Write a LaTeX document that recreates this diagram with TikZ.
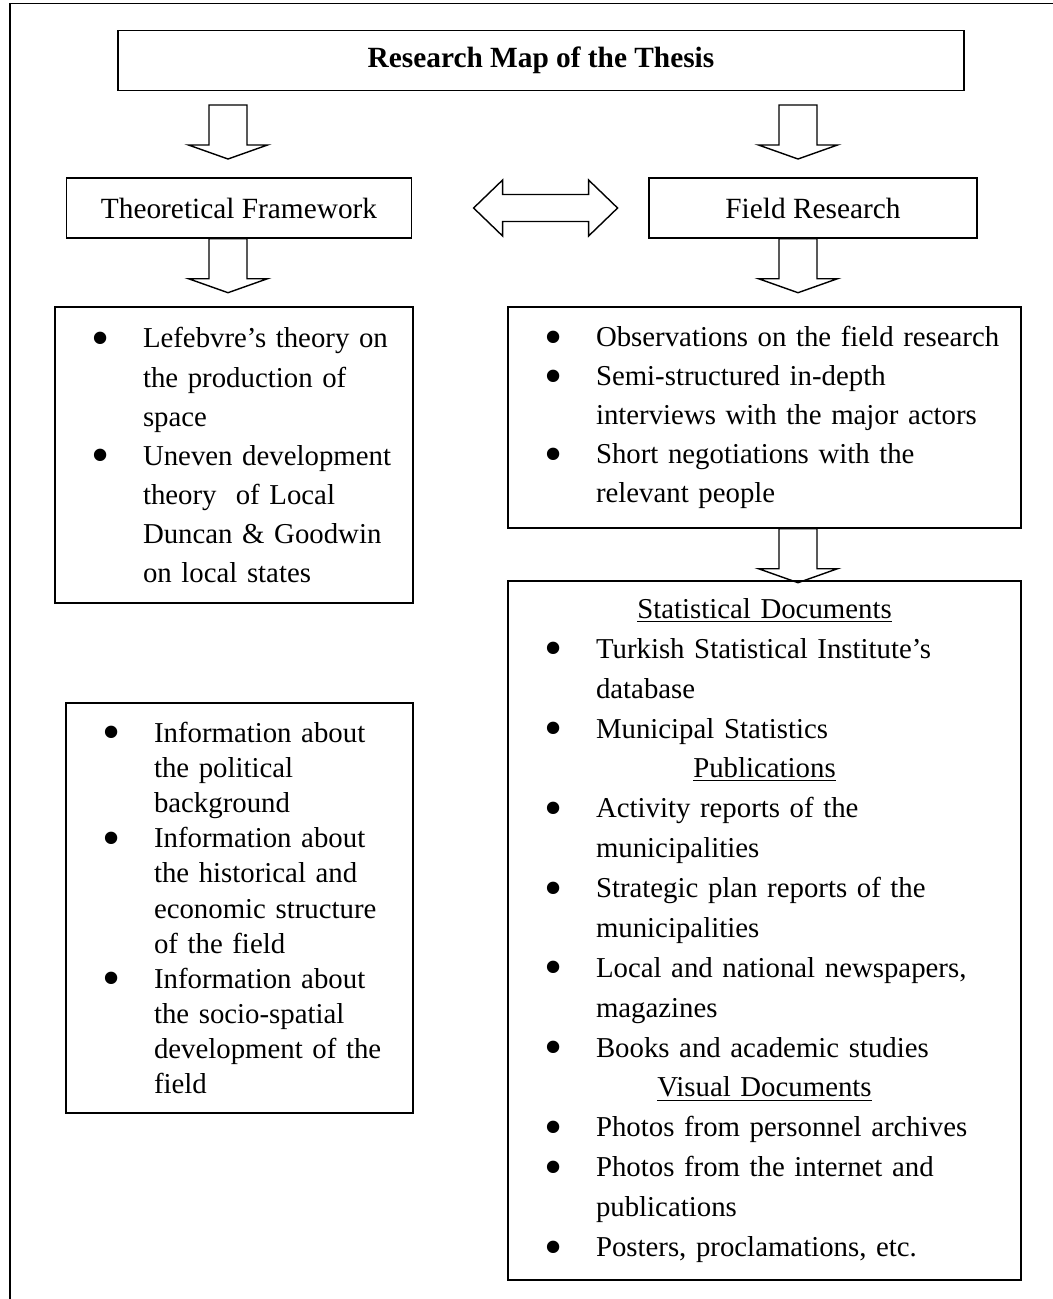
\documentclass[tikz,border=0pt]{standalone}
\usepackage{fontspec}
\setmainfont{Liberation Serif}
\usepackage{graphicx}
\usepackage{tikz}
\usetikzlibrary{positioning, calc}

\newlength\pxu
\setlength\pxu{0.02cm}
\newcommand\bul{\smash{\raisebox{-4.3pt}{\scalebox{1.8}{\textbullet}}}}
\newcommand\bl[1]{\makebox[88\pxu][l]{\hspace{36\pxu}\makebox[20\pxu][c]{\bul}}#1}
\newcommand\cl[1]{\hspace*{88\pxu}#1}
\newcommand\hd[2]{\makebox[#1\pxu][c]{\underline{#2}}}

\begin{document}
\begin{tikzpicture}[
  x=0.02cm, y=-0.02cm,
  textfont/.style={font=\fontsize{16.4}{22.2}\selectfont},
  titlebox/.style={
    rectangle, draw, line width=0.8pt,
    minimum width=846\pxu, minimum height=60\pxu,
    font=\fontsize{16.7}{18}\selectfont\bfseries
  },
  headbox/.style={
    rectangle, draw, line width=0.8pt,
    minimum height=60\pxu, font=\fontsize{16.7}{20}\selectfont
  },
  listbox/.style={
    rectangle, draw, line width=0.8pt,
    inner xsep=0pt, align=left, textfont
  },
  blockline/.style={draw, line width=0.8pt, line join=miter},
  blockdown/.pic={
    \draw[blockline] (-19,0) -- (-19,40) -- (-39.5,40) -- (0,54)
      -- (39.5,40) -- (19,40) -- (19,0) -- cycle;
  },
  blockboth/.pic={
    \draw[blockline] (-72,0) -- (-43,-28) -- (-43,-13.5) -- (43,-13.5)
      -- (43,-28) -- (72,0) -- (43,28) -- (43,13.5) -- (-43,13.5)
      -- (-43,28) -- cycle;
  },
  frame/.style={line width=1.1pt}
]
\useasboundingbox (0,0) rectangle (1053,1299);
\draw[frame] (10,1299) -- (10,3.5) -- (1053,3.5);

\node[titlebox] (title) at (541,60.5) {Research Map of the Thesis};

\node[headbox, minimum width=345\pxu] (theory) at (239,208) {Theoretical Framework};
\node[headbox, minimum width=328\pxu] (field) at (813,208) {Field Research};

\node[listbox, text width=358\pxu, minimum height=296\pxu] (lefebvre) at (234,455) {%
  \bl{Lefebvre’s theory on}\\
  \cl{the production of}\\
  \cl{space}\\
  \bl{Uneven development}\\
  \cl{theory\ \ of Local}\\
  \cl{Duncan \& Goodwin}\\
  \cl{on local states}};

\node[listbox, text width=513\pxu, minimum height=221\pxu] (methods) at (764.5,417.5) {%
  \bl{Observations on the field research}\\
  \bl{Semi-structured in-depth}\\
  \cl{interviews with the major actors}\\
  \bl{Short negotiations with the}\\
  \cl{relevant people}};

\node[listbox, text width=513\pxu, minimum height=699\pxu,
      font=\fontsize{16.4}{22.7}\selectfont] (sources) at (764.5,930.5) {%
  \hd{513}{Statistical Documents}\\
  \bl{Turkish Statistical Institute’s}\\
  \cl{database}\\
  \bl{Municipal Statistics}\\
  \hd{513}{Publications}\\
  \bl{Activity reports of the}\\
  \cl{municipalities}\\
  \bl{Strategic plan reports of the}\\
  \cl{municipalities}\\
  \bl{Local and national newspapers,}\\
  \cl{magazines}\\
  \bl{Books and academic studies}\\
  \hd{513}{Visual Documents}\\
  \bl{Photos from personnel archives}\\
  \bl{Photos from the internet and}\\
  \cl{publications}\\
  \bl{Posters, proclamations, etc.}};

\node[listbox, text width=347\pxu, minimum height=410\pxu,
      font=\fontsize{16.4}{20}\selectfont] (context) at (239.5,908) {%
  \bl{Information about}\\
  \cl{the political}\\
  \cl{background}\\
  \bl{Information about}\\
  \cl{the historical and}\\
  \cl{economic structure}\\
  \cl{of the field}\\
  \bl{Information about}\\
  \cl{the socio-spatial}\\
  \cl{development of the}\\
  \cl{field}};

% block arrows
\coordinate (a1) at (228,105);
\coordinate (a2) at (798,105);
\coordinate (a3) at (theory.south -| a1);
\coordinate (a4) at (field.south -| a2);
\coordinate (a5) at (methods.south -| a2);
\coordinate (mid) at ($(theory.east)!0.565!(field.west)$);

\pic at (a1) {blockdown};
\pic at (a2) {blockdown};
\pic at (a3) {blockdown};
\pic at (a4) {blockdown};
\pic at (a5) {blockdown};
\pic at (mid) {blockboth};
\end{tikzpicture}
\end{document}
